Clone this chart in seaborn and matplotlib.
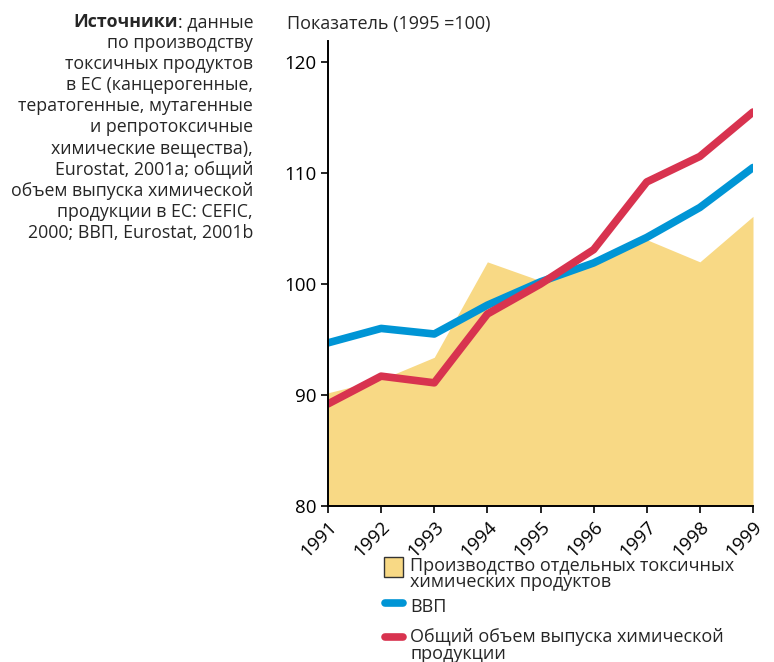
import numpy as np
import pandas as pd
import matplotlib
matplotlib.use('Agg')
import matplotlib.pyplot as plt
import seaborn as sns
from matplotlib import font_manager
from matplotlib.patches import Rectangle
from matplotlib.lines import Line2D

years = [1991, 1992, 1993, 1994, 1995, 1996, 1997, 1998, 1999]
toxic = [90.2, 91.4, 93.4, 102.0, 100.3, 101.8, 104.0, 102.0, 106.1]
gdp = [94.7, 96.0, 95.5, 98.1, 100.2, 101.9, 104.2, 106.9, 110.5]
chem = [89.2, 91.7, 91.1, 97.3, 100.0, 103.1, 109.2, 111.5, 115.5]
yticks = [80, 90, 100, 110, 120]

source_lines = ["по производству", "токсичных продуктов", "в ЕС (канцерогенные,",
                "тератогенные, мутагенные", "и репротоксичные",
                "химические вещества),", "Eurostat, 2001a; общий",
                "объем выпуска химической", "продукции в ЕС: CEFIC,",
                "2000; ВВП, Eurostat, 2001b"]
legend_labels = ['Производство отдельных токсичных\nхимических продуктов',
                 'ВВП',
                 'Общий объем выпуска химической\nпродукции']

# pick a font that also has a bold face
def has_bold(name):
    for f in font_manager.fontManager.ttflist:
        w = f.weight
        if isinstance(w, str):
            w = font_manager.weight_dict.get(w, 400)
        if f.name == name and w >= 600:
            return True
    return False

family = 'DejaVu Sans'
for fam in ['Noto Sans', 'Open Sans', 'Lato', 'Roboto']:
    if has_bold(fam):
        family = fam
        break

sns.set_style('ticks')
plt.rcParams['font.family'] = [family, 'DejaVu Sans']
plt.rcParams['font.size'] = 13

yellow = '#f8d985'
blue = '#0095d5'
red = '#d8334f'
W, H = 774, 662

df = pd.DataFrame({'year': years, 'toxic': toxic, 'gdp': gdp, 'chem': chem})

fig = plt.figure(figsize=(W / 100, H / 100), dpi=100)
ax = fig.add_axes([328 / W, 1 - 506 / H, 425 / W, 465 / H])

ax.fill_between(df['year'], 80, df['toxic'], color=yellow, lw=0)
sns.lineplot(data=df, x='year', y='gdp', color=blue, lw=5.5, ax=ax,
             solid_capstyle='round', solid_joinstyle='round')
sns.lineplot(data=df, x='year', y='chem', color=red, lw=5.5, ax=ax,
             solid_capstyle='round', solid_joinstyle='round')

ax.set_xlim(1991, 1999)
ax.set_ylim(80, 121.9)
ax.set_xticks(years)
ax.set_xticklabels([str(y) for y in years], rotation=45, ha='right',
                   rotation_mode='anchor', fontsize=13.5)
ax.set_yticks(yticks)
ax.set_yticklabels([str(v) for v in yticks], fontsize=13.5)
ax.tick_params(direction='out', length=5, width=1.2, colors='black')
for side in ['top', 'right']:
    ax.spines[side].set_visible(False)
for side in ['left', 'bottom']:
    ax.spines[side].set_linewidth(1.4)
    ax.spines[side].set_color('black')
ax.set_xlabel('')
ax.set_ylabel('')

fig.text(287 / W, 1 - 24 / H, 'Показатель (1995 =100)', fontsize=13,
         ha='left', va='center')

# source note, right-aligned
x_right = 253 / W
fig.canvas.draw()
renderer = fig.canvas.get_renderer()
t_norm = fig.text(x_right, 1 - 22 / H, ': данные', fontsize=12.8,
                  ha='right', va='center')
bb = t_norm.get_window_extent(renderer=renderer)
fig.text(bb.x0 / W, 1 - 22 / H, 'Источники', fontsize=12.8,
         fontweight='bold', ha='right', va='center')
for i, line in enumerate(source_lines):
    fig.text(x_right, 1 - (43 + i * 21.1) / H, line, fontsize=12.8,
             ha='right', va='center')

# legend below the plot
fig.add_artist(Rectangle((384 / W, 1 - 577 / H), 19 / W, 20 / H,
                         facecolor=yellow, edgecolor='#333333', lw=1,
                         transform=fig.transFigure))
fig.add_artist(Line2D([385 / W, 403 / W], [1 - 603 / H, 1 - 603 / H],
                      color=blue, lw=5.5, solid_capstyle='round',
                      transform=fig.transFigure))
fig.add_artist(Line2D([385 / W, 403 / W], [1 - 637 / H, 1 - 637 / H],
                      color=red, lw=5.5, solid_capstyle='round',
                      transform=fig.transFigure))
for lab, yc in zip(legend_labels, [574, 607, 645.5]):
    fig.text(410 / W, 1 - yc / H, lab, fontsize=13, ha='left', va='center',
             linespacing=0.88)

fig.savefig('out.png', dpi=100)
